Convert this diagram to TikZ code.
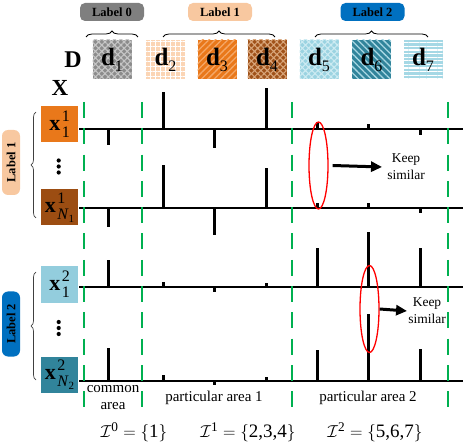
\documentclass[tikz,border=0pt]{standalone}
\usepackage{amsmath}
\usepackage{fontspec}
\setmainfont{Liberation Serif}
\usetikzlibrary{patterns.meta,decorations.pathreplacing,arrows.meta,shapes.geometric}
\definecolor{gLab}{HTML}{7F7F7F}
\definecolor{pLab}{HTML}{F8C8A0}
\definecolor{bLab}{HTML}{0070C0}
\definecolor{cOr}{HTML}{E9781A}
\definecolor{cBr}{HTML}{9C4D12}
\definecolor{cLb}{HTML}{93CDDD}
\definecolor{cTe}{HTML}{31849B}
\definecolor{cGr}{HTML}{00B050}
\newcommand\dlab[1]{\textbf{d}\raisebox{-6pt}{\fontsize{16}{16}\selectfont #1}}
\newcommand\xlab[2]{\textbf{x}\hspace{1.5pt}\makebox[0pt][l]{\raisebox{9pt}{\fontsize{16}{16}\selectfont #1}}\raisebox{-7pt}{\fontsize{16}{16}\selectfont #2}}
\newcommand\nsub[1]{\textit{N}\raisebox{-3pt}{\fontsize{11}{11}\selectfont #1}}
\begin{document}
\begin{tikzpicture}[x=1pt,y=-1pt,
  toplab/.style={rounded corners=5pt,minimum width=64pt,minimum height=18pt,inner sep=0pt,font=\fontsize{12.5}{13}\selectfont\bfseries},
  sidelab/.style={rounded corners=6pt,rotate=90,minimum width=65pt,minimum height=18pt,inner sep=0pt,font=\fontsize{12.5}{13}\selectfont\bfseries},
  dbox/.style={minimum width=39pt,minimum height=39pt,inner sep=0pt,font=\fontsize{25}{25}\selectfont},
  xbox/.style={minimum width=37pt,minimum height=36pt,inner sep=0pt,font=\fontsize{22}{22}\selectfont},
  spike/.style={line width=3pt},
  axis/.style={line width=1.3pt},
  gdash/.style={cGr,line width=1.8pt,dash pattern=on 16pt off 10.3pt},
  brc/.style={decorate,decoration={brace,amplitude=6pt},line width=0.8pt},
  redell/.style={ellipse,draw=red,line width=1.3pt,minimum width=19pt,minimum height=87pt,inner sep=0pt},
  bigarrow/.style={line width=3pt,-{Triangle[length=11pt,width=10pt]}},
  keep/.style={align=center,font=\fontsize{13.5}{17}\selectfont,inner sep=0pt},
  btxt/.style={align=center,font=\fontsize{15}{17}\selectfont,inner sep=0pt},
  eqtxt/.style={font=\fontsize{19}{19}\selectfont,inner sep=0pt}
]
\useasboundingbox (0,0) rectangle (463,446);

% top labels
\node[toplab,fill=gLab] (L0) at (112,12) {Label 0};
\node[toplab,fill=pLab] (L1) at (220,12) {Label 1};
\node[toplab,fill=bLab] (L2) at (372.5,12) {Label 2};
\draw[brc] (86,37) -- (138,37);
\draw[brc] (163,37) -- (275,37);
\draw[brc] (315,37) -- (428,37);

% D and X
\node[font=\fontsize{24}{24}\selectfont\bfseries,inner sep=0pt] (D) at (73,60) {D};
\node[font=\fontsize{23}{23}\selectfont\bfseries,inner sep=0pt] (X) at (60,88) {X};

% d boxes
\node[dbox,fill=gray!90,postaction={pattern={Hatch[angle=45,distance=4.5pt,line width=1.1pt]},pattern color=gray!45}] (d1) at (112,59.5) {\dlab{1}};
\node[dbox,fill={rgb,255:red,251;green,213;blue,181},postaction={pattern={Hatch[angle=0,distance=5pt,line width=0.9pt]},pattern color=white}] (d2) at (165.5,59.5) {\dlab{2}};
\node[dbox,fill=cOr,postaction={pattern={Lines[angle=45,distance=4.5pt,line width=1.3pt]},pattern color={rgb,255:red,245;green,168;blue,104}}] (d3) at (217,59.5) {\dlab{3}};
\node[dbox,fill={rgb,255:red,160;green,82;blue,26},postaction={pattern={Hatch[angle=45,distance=4.5pt,line width=1.1pt]},pattern color={rgb,255:red,216;green,165;blue,122}}] (d4) at (267,59.5) {\dlab{4}};
\node[dbox,fill={rgb,255:red,155;green,211;blue,225},postaction={pattern={Hatch[angle=45,distance=4.5pt,line width=1.1pt]},pattern color={rgb,255:red,205;green,235;blue,242}}] (d5) at (319,59.5) {\dlab{5}};
\node[dbox,fill=cTe,postaction={pattern={Lines[angle=-45,distance=4.5pt,line width=1.3pt]},pattern color={rgb,255:red,169;green,215;blue,227}}] (d6) at (371.5,59.5) {\dlab{6}};
\node[dbox,fill={rgb,255:red,165;green,216;blue,229},postaction={pattern={Lines[angle=0,distance=3.6pt,line width=1.3pt]},pattern color=white}] (d7) at (423,59.5) {\dlab{7}};

% X boxes
\node[xbox,fill=cOr] (x11) at (59.5,124) {\xlab{1}{1}};
\node[xbox,fill=cBr] (x1N) at (59.5,207.5) {\xlab{1}{\nsub{1}}};
\node[xbox,fill=cLb] (x21) at (59.5,284.5) {\xlab{2}{1}};
\node[xbox,fill=cTe] (x2N) at (59.5,375) {\xlab{2}{\nsub{2}}};

% dots
\foreach \yy in {160.5,166.5,172.5} \fill (58.7,\yy) circle (2.1pt);
\foreach \yy in {322,328,334} \fill (58.7,\yy) circle (2.1pt);

% side labels and braces
\node[sidelab,fill=pLab] (S1) at (11,162.5) {Label 1};
\node[sidelab,fill=bLab] (S2) at (11,324) {Label 2};
\draw[brc,decoration={amplitude=5pt},line width=0.7pt,black!75] (36,218) -- (36,112);
\draw[brc,decoration={amplitude=5pt},line width=0.7pt,black!75] (36,380) -- (36,272);

% axes
\foreach \yy in {129,208,287,381} \draw[axis] (79,\yy) -- (463,\yy);

% spikes
\foreach \xx/\yy in {108/145,163/92,214/148,266/88,317/122,368/124,420/135}
  \draw[spike] (\xx,129) -- (\xx,\yy);
\foreach \xx/\yy in {108/227,163/165,214/235,266/168,317/203,368/203,420/213}
  \draw[spike] (\xx,208) -- (\xx,\yy);
\foreach \xx/\yy in {108/260,163/282,214/292,266/283,317/248,368/232,420/248}
  \draw[spike] (\xx,287) -- (\xx,\yy);
\foreach \xx/\yy in {108/348,163/375,214/385,266/377,317/350,368/314,420/349}
  \draw[spike] (\xx,381) -- (\xx,\yy);

% green dashed separators
\foreach \xx in {84,142,292,448} \draw[gdash] (\xx,102) -- (\xx,408);

% red ellipses and arrows
\node[redell] (e1) at (318.5,165.5) {};
\node[keep] (k1) at (406,167) {Keep\\similar};
\draw[bigarrow] ([xshift=4pt]e1.east) -- ([xshift=-5pt]k1.west);
\node[redell] (e2) at (369.5,309) {};
\node[keep] (k2) at (427,311) {Keep\\similar};
\draw[bigarrow] (e2.east) -- ([xshift=-1pt]k2.west);

% bottom texts
\node[btxt] (t0) at (113,398) {common\\area};
\node[btxt] (t1) at (214,398) {particular area 1};
\node[btxt] (t2) at (368,398) {particular area 2};
\node[eqtxt] (q0) at (134,432) {$\mathcal{I}^{\text{0}}=\{\text{1}\}$};
\node[eqtxt] (q1) at (248,432) {$\mathcal{I}^{\text{1}}=\{\text{2,3,4}\}$};
\node[eqtxt] (q2) at (375,432) {$\mathcal{I}^{\text{2}}=\{\text{5,6,7}\}$};
\end{tikzpicture}
\end{document}
